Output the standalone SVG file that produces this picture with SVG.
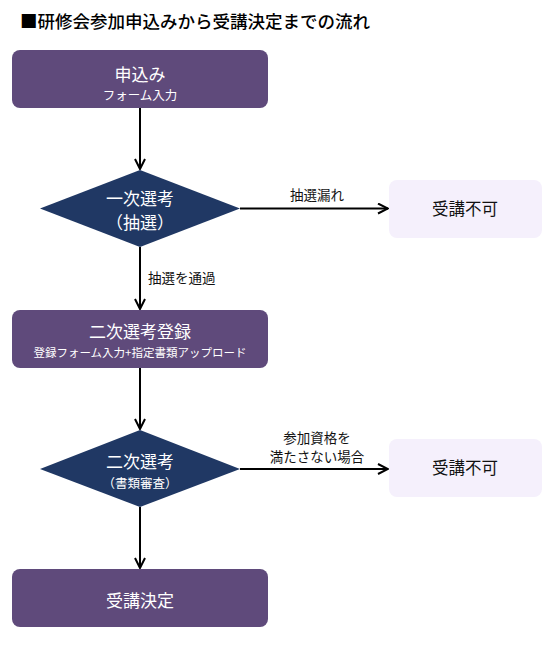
<svg xmlns="http://www.w3.org/2000/svg" width="557" height="650" viewBox="0 0 557 650">
<defs>
<marker id="arr" viewBox="0 0 12 12" refX="11" refY="6" markerWidth="12" markerHeight="12" markerUnits="userSpaceOnUse" orient="auto">
<path d="M1,1 L11,6 L1,11" fill="none" stroke="#000" stroke-width="2"/>
</marker>
<style>
text{font-family:"Noto Sans CJK JP","Noto Sans",sans-serif;text-anchor:middle}
.proc{fill:#5f4a7b}
.dec{fill:#203864}
.rej{fill:#f5f0fc}
.w{fill:#fff}
.lbl{fill:#111;font-size:13.5px}
.edge{stroke:#000;stroke-width:2;fill:none;marker-end:url(#arr)}
</style>
</defs>
<rect width="557" height="650" fill="#fff"/>
<text x="20" y="28" style="text-anchor:start;font-size:17.5px;font-weight:500" fill="#000">■研修会参加申込みから受講決定までの流れ</text>
<g id="edges">
<path class="edge" d="M140,108 V169"/>
<path class="edge" d="M140,247 V309"/>
<path class="edge" d="M140,368 V429"/>
<path class="edge" d="M140,507 V568"/>
<path class="edge" d="M240,208.5 H388"/>
<path class="edge" d="M240,469 H388"/>
<text class="lbl" x="317" y="200">抽選漏れ</text>
<text class="lbl" x="148" y="283" style="text-anchor:start">抽選を通過</text>
<text class="lbl" x="317" y="443">参加資格を</text>
<text class="lbl" x="317" y="462">満たさない場合</text>
</g>
<g id="n1">
<rect class="proc" x="12" y="50" width="256" height="58" rx="8"/>
<text class="w" x="140" y="81" font-size="17">申込み</text>
<text class="w" x="140" y="100" font-size="12.5">フォーム入力</text>
</g>
<g id="d1">
<polygon class="dec" points="140,170 240,208.5 140,247 40,208.5"/>
<text class="w" x="140" y="205" font-size="17">一次選考</text>
<text class="w" x="140" y="229" font-size="17">（抽選）</text>
</g>
<g id="r1">
<rect class="rej" x="389" y="180" width="153" height="58" rx="8"/>
<text x="465" y="215" font-size="16.5" fill="#111">受講不可</text>
</g>
<g id="n2">
<rect class="proc" x="12" y="310" width="256" height="58" rx="8"/>
<text class="w" x="140" y="338" font-size="17">二次選考登録</text>
<text class="w" x="140" y="357" font-size="11.5">登録フォーム入力+指定書類アップロード</text>
</g>
<g id="d2">
<polygon class="dec" points="140,430 240,469 140,507 40,469"/>
<text class="w" x="140" y="468" font-size="17">二次選考</text>
<text class="w" x="140" y="488" font-size="12.5">（書類審査）</text>
</g>
<g id="r2">
<rect class="rej" x="389" y="439" width="153" height="58" rx="8"/>
<text x="465" y="474" font-size="16.5" fill="#111">受講不可</text>
</g>
<g id="n3">
<rect class="proc" x="12" y="569" width="256" height="58" rx="8"/>
<text class="w" x="140" y="607" font-size="17">受講決定</text>
</g>
</svg>
